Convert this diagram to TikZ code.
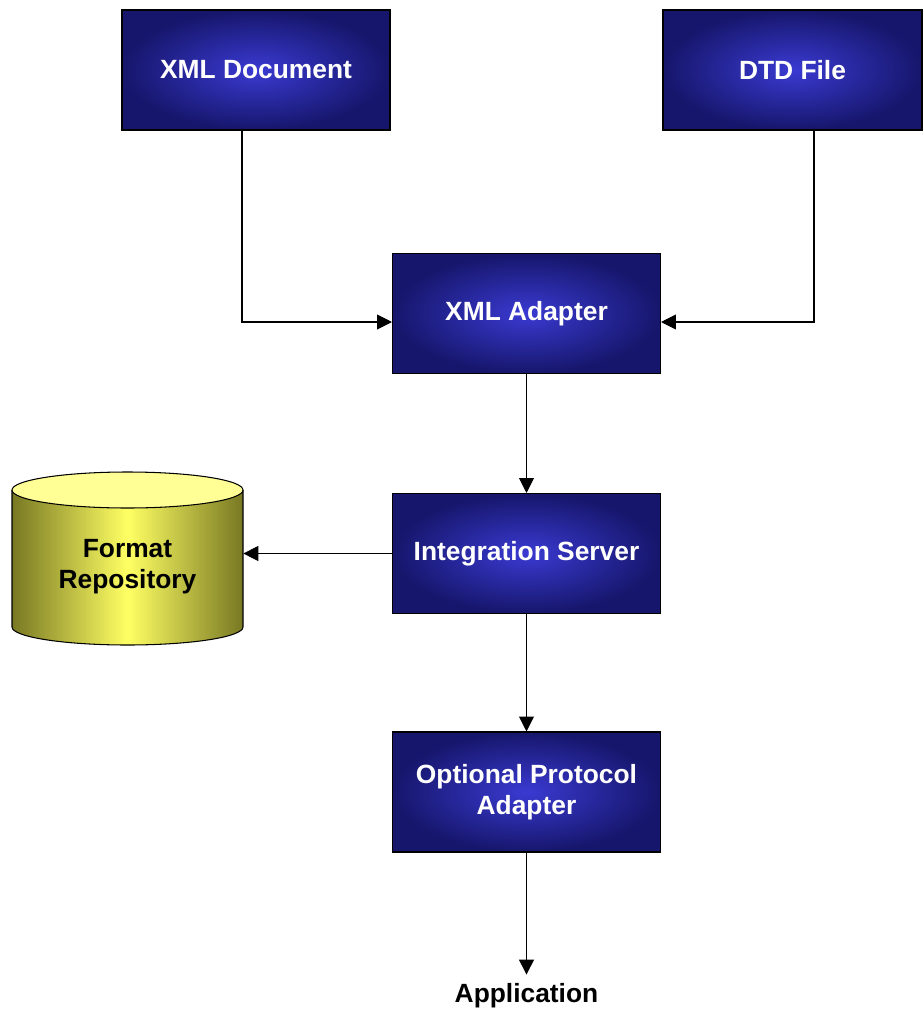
\documentclass[tikz,border=0pt]{standalone}
\usepackage{fontspec}
\setmainfont{Liberation Sans}
\usetikzlibrary{positioning,arrows.meta}

\definecolor{boxout}{RGB}{22,22,108}
\definecolor{boxin}{RGB}{58,58,210}
\definecolor{cylside}{RGB}{120,120,35}
\definecolor{cylmid}{RGB}{255,255,100}
\definecolor{cyltop}{RGB}{255,255,150}

\begin{document}
\begin{tikzpicture}[
    % node attributes
    block/.style = {
        rectangle,
        draw=black,
        line width=0.6pt,
        minimum width=5.36cm,
        minimum height=2.4cm,
        inner color=boxin,
        outer color=boxout,
        text=white,
        align=center,
        font=\fontsize{15}{17.6}\selectfont\bfseries},
    % connectors
    flow/.style = {
        draw,
        line width=0.6pt,
        -{Triangle[length=8.5pt,width=8.5pt]}}]
    \useasboundingbox (0,0) rectangle (18.46,-20.2);

    % layout boxes
    \node[block] (xmldoc) at (5.12,-1.4) {XML Document};
    \node[block, minimum width=5.18cm] (dtd) at (15.85,-1.4) {DTD File};
    \node[block] (adapter) at (10.53,-6.27) {XML Adapter};
    \node[block] (server) at (10.53,-11.07) {Integration Server};
    \node[block] (protocol) at (10.53,-15.84) {Optional Protocol\\Adapter};
    \node[font=\fontsize{15}{18}\selectfont\bfseries, inner xsep=2pt, inner ysep=5pt] (app) at (10.53,-19.92) {Application};

    % repository cylinder
    \shade[left color=cylside, right color=cylside, middle color=cylmid]
        (0.24,-9.8) -- (0.24,-12.54)
        arc[start angle=180, end angle=360, x radius=2.31, y radius=0.36]
        -- (4.86,-9.8) -- cycle;
    \draw[line width=0.6pt] (0.24,-9.8) -- (0.24,-12.54)
        arc[start angle=180, end angle=360, x radius=2.31, y radius=0.36]
        -- (4.86,-9.8);
    \draw[line width=0.6pt, fill=cyltop] (2.55,-9.8) ellipse[x radius=2.31, y radius=0.36];
    \node[minimum width=4.62cm, inner sep=0pt, align=center,
        font=\fontsize{15}{17.6}\selectfont\bfseries] (repo) at (2.55,-11.34) {Format\\Repository};

    % connectors
    \draw[flow] ([xshift=-0.28cm]xmldoc.south) |- ([yshift=-0.17cm]adapter.west);
    \draw[flow] ([xshift=0.43cm]dtd.south) |- ([yshift=-0.17cm]adapter.east);
    \draw[flow] (adapter) -- (server);
    \draw[flow] (server.west) -- (server.west -| repo.east);
    \draw[flow] (server) -- (protocol);
    \draw[flow] (protocol) -- (app);
\end{tikzpicture}
\end{document}
